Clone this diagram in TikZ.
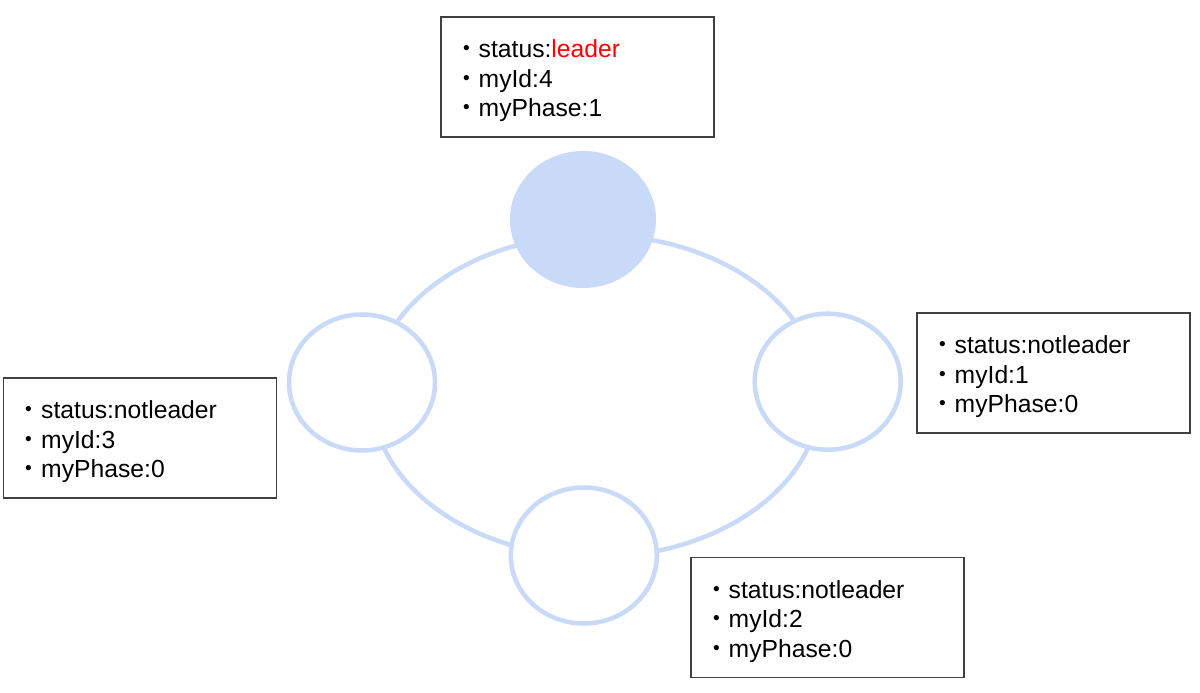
\documentclass[tikz,border=0pt]{standalone}
\usepackage{fontspec}
\setmainfont{Liberation Sans}
\newfontfamily\cjk{Noto Sans CJK JP}
\usetikzlibrary{shapes.geometric}
\definecolor{ringblue}{HTML}{C9DAF8}
\definecolor{boxgray}{HTML}{404040}
\definecolor{leaderred}{HTML}{FF0000}
\newcommand\mybul{{\cjk ・}}
\newcommand\firstline{\rule{0pt}{26pt}\mybul}
\begin{document}
\begin{tikzpicture}[x=1pt,y=-1pt,
 nodecirc/.style={ellipse, draw=ringblue, line width=4.5pt, fill=white, minimum width=146pt, minimum height=136pt, inner sep=0pt},
 leadercirc/.style={ellipse, fill=ringblue, minimum width=146pt, minimum height=137pt, inner sep=0pt},
 infobox/.style={draw=boxgray, line width=1.2pt, rectangle, minimum width=273pt, minimum height=120pt, text width=247pt, inner xsep=13pt, inner ysep=0pt, align=left, font=\fontsize{24.7pt}{29.5pt}\selectfont}]
\useasboundingbox (0,0) rectangle (1200,693);
\fill[white] (0,0) rectangle (1200,693);
\draw[ringblue, line width=4.5pt] (596,396) ellipse [x radius=224, y radius=161];
\node[leadercirc] (n4) at (583,219.5) {};
\node[nodecirc] (n3) at (362,382.5) {};
\node[nodecirc] (n1) at (827.7,381.7) {};
\node[nodecirc] (n2) at (583.8,555.5) {};
\node[infobox] (b4) at (577.5,77) {\firstline status:\textcolor{leaderred}{leader}\\\mybul myId:4\\\mybul myPhase:1};
\node[infobox] (b3) at (140,438) {\firstline status:notleader\\\mybul myId:3\\\mybul myPhase:0};
\node[infobox] (b1) at (1053.5,373) {\firstline status:notleader\\\mybul myId:1\\\mybul myPhase:0};
\node[infobox] (b2) at (827.5,617.5) {\firstline status:notleader\\\mybul myId:2\\\mybul myPhase:0};
\end{tikzpicture}
\end{document}
